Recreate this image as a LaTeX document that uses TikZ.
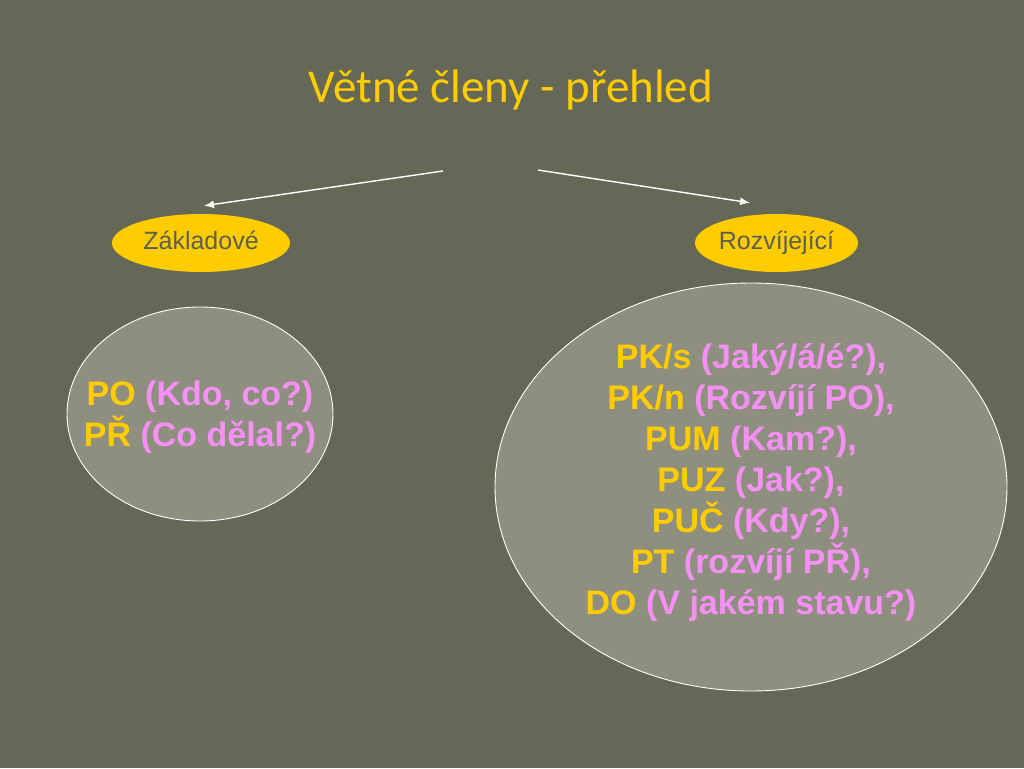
\documentclass[tikz,border=0pt]{standalone}
\usepackage{fontspec}
\setmainfont{Liberation Sans}
\newfontfamily\titlefont{Carlito}
\usetikzlibrary{shapes.geometric,arrows.meta}
\definecolor{bg}{HTML}{666857}
\definecolor{ellfill}{HTML}{8F8F7F}
\definecolor{yel}{HTML}{FFCC00}
\definecolor{pnk}{HTML}{F590F5}
\definecolor{lbl}{HTML}{5E5F50}
\tikzset{
  pill/.style={ellipse, fill=yel, draw=none, inner sep=0pt, text=lbl, text height=18pt, text depth=5pt, font=\fontsize{25}{30}\selectfont},
  bigell/.style={ellipse, fill=ellfill, draw=white, line width=0.9pt, inner sep=0pt},
  members/.style={align=center, font=\bfseries\fontsize{34}{41}\selectfont, text=pnk, inner sep=0pt},
  arr/.style={draw=white, line width=1.4pt, -{Latex[length=10pt,width=8pt]}}
}
\begin{document}
\begin{tikzpicture}[x=1pt,y=-1pt]
\fill[bg] (0,0) rectangle (1024,768);
\useasboundingbox (0,0) rectangle (1024,768);
\node[font=\titlefont\fontsize{47}{56}\selectfont, text=yel, inner sep=0pt, anchor=base] (title) at (511,102) {Větné členy - přehled};
\node[pill, minimum width=178pt, minimum height=58pt] (zak) at (201,243) {Základové};
\node[pill, minimum width=153pt, minimum height=58pt] (roz) at (776.5,243) {Rozvíjející};
\coordinate (ls) at (443,171);
\coordinate (rs) at (538,170);
\draw[arr] (ls) -- ([xshift=3pt,yshift=8pt]zak.north);
\draw[arr] (rs) -- ([xshift=-26.5pt,yshift=11pt]roz.north);
\node[bigell, minimum width=266pt, minimum height=214pt] (zakl) at (200,414) {};
\node[bigell, minimum width=512pt, minimum height=408pt] (rozv) at (751,487) {};
\node[members] (zt) at (200,417) {{\color{yel}PO} (Kdo, co?)\\{\color{yel}PŘ} (Co dělal?)};
\node[members] (rt) at (751,482.5) {{\color{yel}PK/s} (Jaký/á/é?),\\
{\color{yel}PK/n} (Rozvíjí PO),\\
{\color{yel}PUM} (Kam?),\\
{\color{yel}PUZ} (Jak?),\hspace*{9pt}\\
{\color{yel}PUČ} (Kdy?),\\
{\color{yel}PT} (rozvíjí PŘ),\\
{\color{yel}DO} (V jakém stavu?)};
\end{tikzpicture}
\end{document}
